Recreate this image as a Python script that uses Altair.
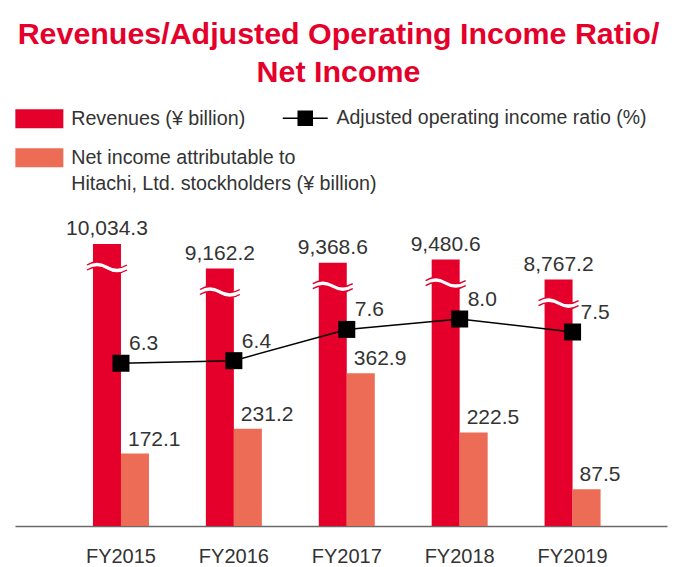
import json
import altair as alt
import pandas as pd

years = ["FY2015", "FY2016", "FY2017", "FY2018", "FY2019"]
revenues = [10034.3, 9162.2, 9368.6, 9480.6, 8767.2]
op_ratio = [6.3, 6.4, 7.6, 8.0, 7.5]
net_income = [172.1, 231.2, 362.9, 222.5, 87.5]

title_lines = ["Revenues/Adjusted Operating Income Ratio/", "Net Income"]
rev_name = "Revenues (¥ billion)"
ni_name = "Net income attributable to|Hitachi, Ltd. stockholders (¥ billion)"
ratio_name = "Adjusted operating income ratio (%)"

RED = "#E5002B"
SALMON = "#EC6C56"
TXT = "#333333"
FONT = "Liberation Sans"

df = pd.DataFrame({"fy": years, "rev": revenues, "ratio": op_ratio, "ni": net_income})


def lit(s):
    return json.dumps(s)


x_enc = alt.X(
    "fy:N",
    sort=years,
    scale=alt.Scale(paddingInner=0, paddingOuter=0.3875, align=0.566),
    axis=alt.Axis(
        title=None, labelAngle=0, ticks=False, tickSize=0, labelPadding=36,
        labelBaseline="alphabetic", labelFontSize=20, labelColor=TXT, labelFont=FONT,
        domainColor="#6a6a6a", domainWidth=1.5, grid=False,
    ),
)

rev_y = alt.Y("rev:Q", scale=alt.Scale(domain=[0, 11600], nice=False, zero=True), axis=None)
ni_y = alt.Y("ni:Q", scale=alt.Scale(domain=[0, 775], nice=False, zero=True), axis=None)
ratio_y = alt.Y("ratio:Q", scale=alt.Scale(domain=[0.05, 12.57], nice=False, zero=False), axis=None)

fill_scale = alt.Scale(domain=[rev_name, ni_name], range=[RED, SALMON])

rect_path = "M-2.526,-1H2.526V1H-2.526Z"
line_sym_path = "M-2.81,-0.094H2.81V0.094H-2.81Z M-0.97,-0.97H0.97V0.97H-0.97Z"

fill_legend = alt.Legend(
    title=None, orient="none", legendX=0, legendY=-91, direction="vertical",
    symbolType=rect_path, symbolSize=361, symbolOffset=14.5, symbolStrokeWidth=0,
    labelOffset=22, labelFontSize=19.7, labelFont=FONT, labelColor=TXT, labelLimit=600,
    labelExpr="split(datum.label, '|')", rowPadding=18, padding=0,
)

base = alt.Chart(df)

rev_bar = base.transform_calculate(series=lit(rev_name)).mark_bar(
    width=28, xOffset=-14
).encode(
    x=x_enc, y=rev_y,
    fill=alt.Fill("series:N", scale=fill_scale, legend=fill_legend),
)

band_path = ("M-1,-0.125Q-0.5,-0.425 0,-0.125T1,-0.125"
             "L1,0.125Q0.5,0.425 0,0.125T-1,0.125Z")
wave_path = ("M-1,-0.125Q-0.5,-0.425 0,-0.125T1,-0.125"
             "M1,0.125Q0.5,0.425 0,0.125T-1,0.125")

rev_wave_fill = base.mark_point(
    shape=band_path, size=1600, filled=True, fill="white", strokeWidth=0,
    opacity=1, xOffset=-14, yOffset=23.5,
).encode(x=x_enc, y=rev_y)

rev_wave_line = base.mark_point(
    shape=wave_path, size=1600, filled=False, stroke=RED, strokeWidth=1.4,
    opacity=1, xOffset=-14, yOffset=23.5,
).encode(x=x_enc, y=rev_y)

rev_text = base.mark_text(
    align="center", baseline="alphabetic", dx=-14, dy=-9,
    fontSize=21, font=FONT, color=TXT,
).encode(x=x_enc, y=rev_y, text=alt.Text("rev:Q", format=",.1f"))

rev_layer = alt.layer(rev_bar, rev_wave_fill, rev_wave_line, rev_text)

ni_bar = base.transform_calculate(series=lit(ni_name)).mark_bar(
    width=28, xOffset=14
).encode(
    x=x_enc, y=ni_y,
    fill=alt.Fill("series:N", scale=fill_scale, legend=fill_legend),
)
ni_text = base.mark_text(
    align="left", baseline="alphabetic", dx=7, dy=-8,
    fontSize=21, font=FONT, color=TXT,
).encode(x=x_enc, y=ni_y, text=alt.Text("ni:Q", format=".1f"))

ni_layer = alt.layer(ni_bar, ni_text)

ratio_line = base.mark_line(color="black", strokeWidth=1.5).encode(
    x=x_enc, y=ratio_y,
)
ratio_pts = base.transform_calculate(series=lit(ratio_name)).mark_square(
    size=289, opacity=1, filled=True
).encode(
    x=x_enc, y=ratio_y,
    color=alt.Color(
        "series:N", scale=alt.Scale(domain=[ratio_name], range=["black"]),
        legend=alt.Legend(
            title=None, orient="none", legendX=266, legendY=-91.5,
            symbolType=line_sym_path, symbolSize=256, symbolOffset=14.5,
            symbolStrokeWidth=0,
            labelOffset=21.5, labelFontSize=19.5, labelFont=FONT, labelColor=TXT,
            labelLimit=600, padding=0,
        ),
    ),
)
ratio_text = base.mark_text(
    align="left", baseline="alphabetic", dx=8, dy=-13,
    fontSize=21, font=FONT, color=TXT,
).encode(x=x_enc, y=ratio_y, text=alt.Text("ratio:Q", format=".1f"))

ratio_layer = alt.layer(ratio_line, ratio_pts, ratio_text)

chart = alt.layer(rev_layer, ni_layer, ratio_layer).resolve_scale(
    y="independent"
).properties(
    width=652, height=326,
    autosize=alt.AutoSizeParams(type="none"),
    padding={"left": 7, "top": 192, "right": 1, "bottom": 40},
    title=alt.Title(
        text=title_lines, fontSize=30.4, font=FONT, fontWeight="bold", color=RED,
        anchor="middle", lineHeight=38, offset=20, dx=-2.5,
    ),
).configure(
    background="white",
    style={"guide-label": {"lineHeight": 25.7}},
).configure_view(strokeWidth=0, stroke="transparent")

chart.save("out.html", embed_options={"renderer": "svg", "actions": False})
